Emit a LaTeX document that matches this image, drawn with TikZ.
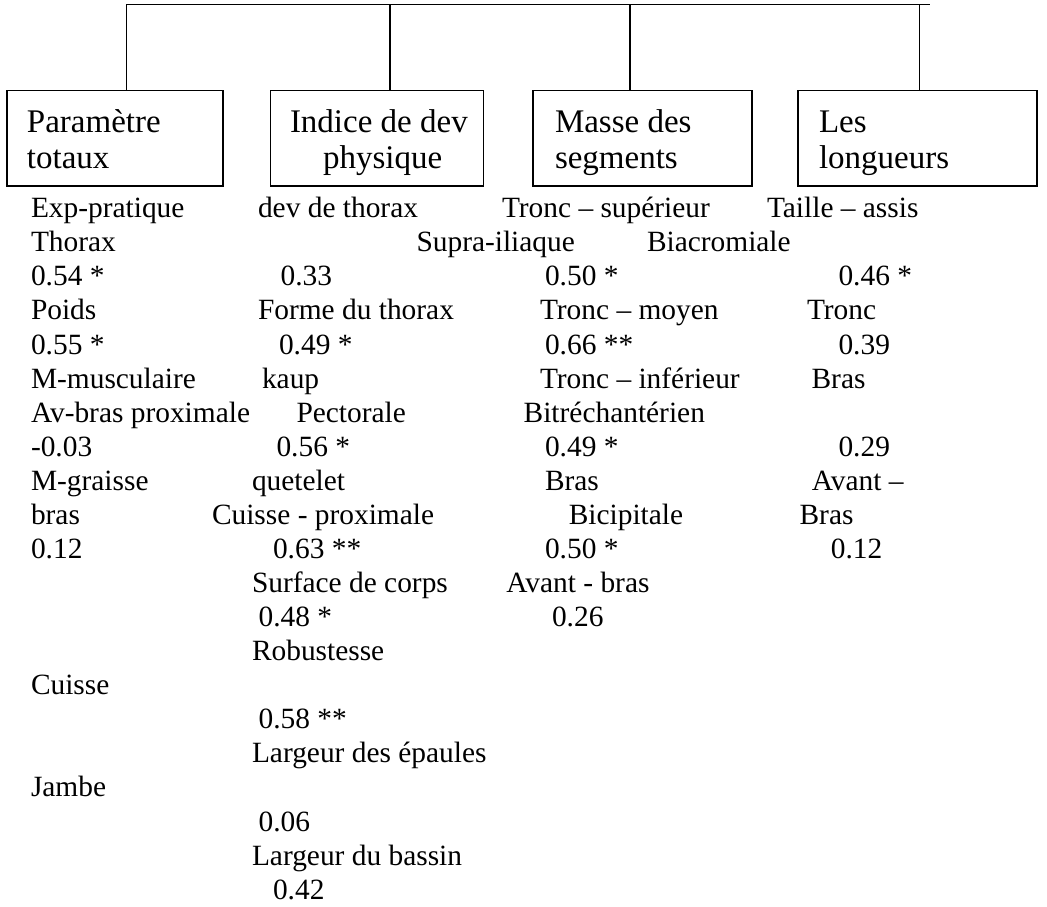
\documentclass[tikz,border=0pt]{standalone}
\usepackage{fontspec}
\setmainfont{Liberation Serif}
\begin{document}
\begin{tikzpicture}[x=1pt,y=-1pt,
  txt/.style={anchor=base west, inner sep=0pt, outer sep=0pt, font=\fontsize{29.4}{34}\selectfont},
  boxtxt/.style={anchor=base west, inner sep=0pt, outer sep=0pt, font=\fontsize{33}{36}\selectfont},
  box/.style={draw, line width=1.6pt, anchor=north west, inner sep=0pt, outer sep=0pt, minimum height=95.5pt},
  link/.style={line width=1.4pt},
  bar/.style={line width=1.6pt}]
\useasboundingbox (0,0) rectangle (1047,907);
% boxes
\node[box, minimum width=216pt] (b1) at (7,90.5) {};
\node[box, minimum width=213pt] (b2) at (270.5,90.5) {};
\node[box, minimum width=219pt] (b3) at (533,90.5) {};
\node[box, minimum width=239pt] (b4) at (798,90.5) {};
% connectors
\coordinate (t1) at (126.5,4.5);
\coordinate (t2) at (390,4.5);
\coordinate (t3) at (630,4.5);
\coordinate (t4) at (919.3,4.5);
\coordinate (tend) at (929,4.5);
\draw[bar, line cap=rect] (t1) -- (tend);
\draw[link] (t1) -- (t1 |- b1.north);
\draw[link] (t2) -- (t2 |- b2.north);
\draw[link] (t3) -- (t3 |- b3.north);
\draw[link] (t4) -- (t4 |- b4.north);
% box texts
\node[boxtxt] (b1a) at (27,132.7) {Paramètre};
\node[boxtxt] (b1b) at (27,168.2) {totaux};
\node[boxtxt] (b2a) at (290,132.7) {Indice de dev};
\node[boxtxt] (b2b) at (323,168.2) {physique};
\node[boxtxt] (b3a) at (555,132.7) {Masse des};
\node[boxtxt] (b3b) at (555,168.2) {segments};
\node[boxtxt] (b4a) at (819,132.7) {Les};
\node[boxtxt] (b4b) at (819,168.2) {longueurs};
% column 1
\node[txt] (a0) at (31,217.7) {Exp-pratique};
\node[txt] (a1) at (31,251.8) {Thorax};
\node[txt] (a2) at (31,285.8) {0.54 *};
\node[txt] (a3) at (31,319.9) {Poids};
\node[txt] (a4) at (31,354.0) {0.55 *};
\node[txt] (a5) at (31,388.1) {M-musculaire};
\node[txt] (a6) at (31,422.1) {Av-bras proximale};
\node[txt] (a7) at (31,456.2) {-0.03};
\node[txt] (a8) at (31,490.3) {M-graisse};
\node[txt] (a9) at (31,524.3) {bras};
\node[txt] (a10) at (31,558.4) {0.12};
\node[txt] (a14) at (31,694.7) {Cuisse};
\node[txt] (a17) at (31,796.9) {Jambe};
% column 2
\node[txt] (c0) at (258,217.7) {dev de thorax};
\node[txt] (c2) at (280.6,285.8) {0.33};
\node[txt] (c3) at (258,319.9) {Forme du thorax};
\node[txt] (c4) at (279,354.0) {0.49 *};
\node[txt] (c5) at (262,388.1) {kaup};
\node[txt] (c6) at (296.5,422.1) {Pectorale};
\node[txt] (c7) at (276.5,456.2) {0.56 *};
\node[txt] (c8) at (252,490.3) {quetelet};
\node[txt] (c9) at (212,524.3) {Cuisse - proximale};
\node[txt] (c10) at (273,558.4) {0.63 **};
\node[txt] (c11) at (252,592.5) {Surface de corps};
\node[txt] (c12) at (258.6,626.5) {0.48 *};
\node[txt] (c13) at (252,660.6) {Robustesse};
\node[txt] (c15) at (258.6,728.8) {0.58 **};
\node[txt] (c16) at (252,762.8) {Largeur des épaules};
\node[txt] (c18) at (258.6,831.0) {0.06};
\node[txt] (c19) at (252,865.0) {Largeur du bassin};
\node[txt] (c20) at (273,899.1) {0.42};
% column 3
\node[txt] (d0) at (502,217.7) {Tronc – supérieur};
\node[txt] (d1) at (416.5,251.8) {Supra-iliaque};
\node[txt] (d2) at (545,285.8) {0.50 *};
\node[txt] (d3) at (540,319.9) {Tronc – moyen};
\node[txt] (d4) at (545,354.0) {0.66 **};
\node[txt] (d5) at (540,388.1) {Tronc – inférieur};
\node[txt] (d6) at (523.7,422.1) {Bitréchantérien};
\node[txt] (d7) at (545,456.2) {0.49 *};
\node[txt] (d8) at (545,490.3) {Bras};
\node[txt] (d9) at (568.8,524.3) {Bicipitale};
\node[txt] (d10) at (545,558.4) {0.50 *};
\node[txt] (d11) at (506.4,592.5) {Avant - bras};
\node[txt] (d12) at (552,626.5) {0.26};
% column 4
\node[txt] (e0) at (767,217.7) {Taille – assis};
\node[txt] (e1) at (647,251.8) {Biacromiale};
\node[txt] (e2) at (838.5,285.8) {0.46 *};
\node[txt] (e3) at (807,319.9) {Tronc};
\node[txt] (e4) at (838.5,354.0) {0.39};
\node[txt] (e5) at (811.6,388.1) {Bras};
\node[txt] (e7) at (838.5,456.2) {0.29};
\node[txt] (e8) at (811.8,490.3) {Avant –};
\node[txt] (e9) at (799.6,524.3) {Bras};
\node[txt] (e10) at (830.8,558.4) {0.12};
\end{tikzpicture}
\end{document}
